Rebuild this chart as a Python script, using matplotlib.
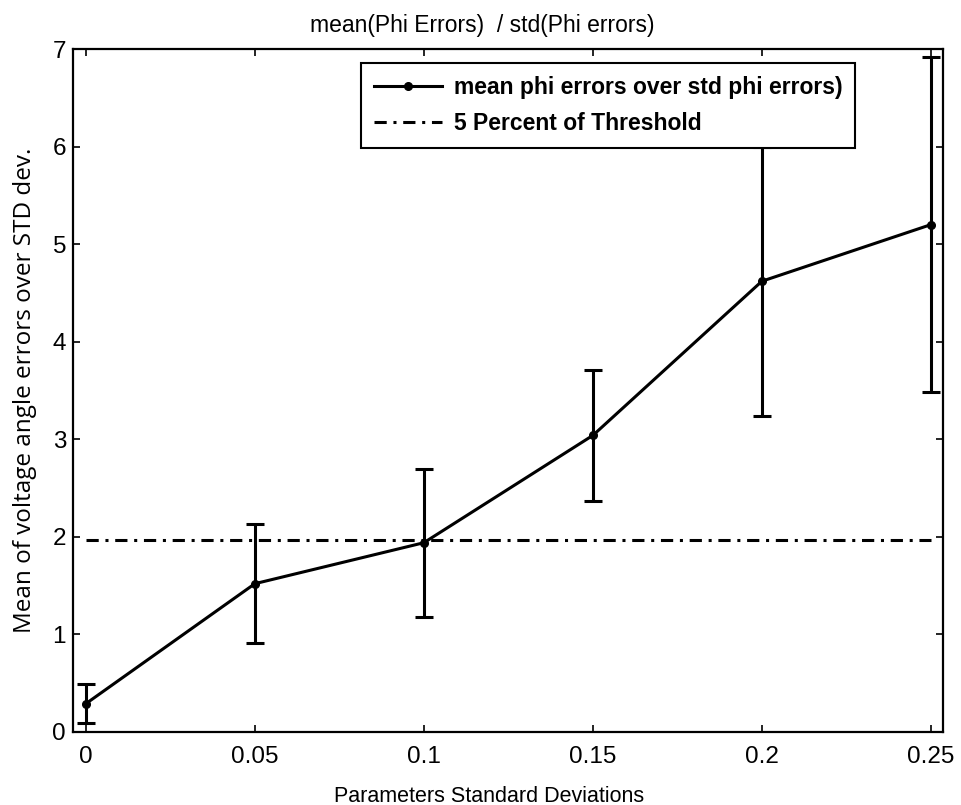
import matplotlib.pyplot as plt

# data
sigma = [0, 0.05, 0.1, 0.15, 0.2, 0.25]
ratio_mean = [0.29, 1.52, 1.94, 3.04, 4.62, 5.20]
ratio_err = [0.20, 0.61, 0.76, 0.67, 1.38, 1.72]
threshold = 1.97
x_ticks = [0, 0.05, 0.1, 0.15, 0.2, 0.25]
x_tick_labels = ['0', '0.05', '0.1', '0.15', '0.2', '0.25']
y_ticks = [0, 1, 2, 3, 4, 5, 6, 7]

plt.rcParams['font.family'] = ['Liberation Sans', 'DejaVu Sans']

fig = plt.figure(figsize=(9.62, 8.05), dpi=100)
ax = fig.add_axes([0.0759, 0.0907, 0.9044, 0.8484])

# error bars without legend entry, line+markers on top
ax.errorbar(sigma, ratio_mean, yerr=ratio_err, fmt='none', ecolor='black',
            elinewidth=2.2, capsize=6.5, capthick=2.2)
ax.plot(sigma, ratio_mean, color='black', linewidth=2.2, marker='o',
        markersize=5.5, label='mean phi errors over std phi errors)')
ax.plot([sigma[0], sigma[-1]], [threshold, threshold], color='black',
        linewidth=2.2, linestyle=(0, (4, 2.2, 1, 2.2)),
        label='5 Percent of Threshold')

ax.set_xlim(-0.0038, 0.2536)
ax.set_ylim(0, 7)
ax.set_xticks(x_ticks)
ax.set_xticklabels(x_tick_labels)
ax.set_yticks(y_ticks)
ax.tick_params(direction='in', length=5, width=1.2, labelsize=17.5,
               top=True, right=True)
ax.tick_params(axis='x', pad=10)
ax.tick_params(axis='y', pad=5)
for s in ax.spines.values():
    s.set_linewidth(1.6)

ax.set_title('mean(Phi Errors)  / std(Phi errors)', fontsize=16.5, pad=12,
             x=0.47)
ax.set_xlabel('Parameters Standard Deviations', fontsize=15.5, labelpad=13,
              x=0.478)
ax.set_ylabel('Mean of voltage angle errors over STD dev.', fontsize=17.5,
              family=['Open Sans', 'DejaVu Sans'], labelpad=11)

leg = ax.legend(loc='upper right', bbox_to_anchor=(0.899, 0.9795),
                prop={'weight': 'bold', 'size': 16.5}, fancybox=False,
                framealpha=1, edgecolor='black', handlelength=3.0,
                handletextpad=0.5, borderaxespad=0, borderpad=0.55,
                labelspacing=0.6)
leg.get_frame().set_linewidth(1.5)

plt.savefig('out.png', dpi=100)
